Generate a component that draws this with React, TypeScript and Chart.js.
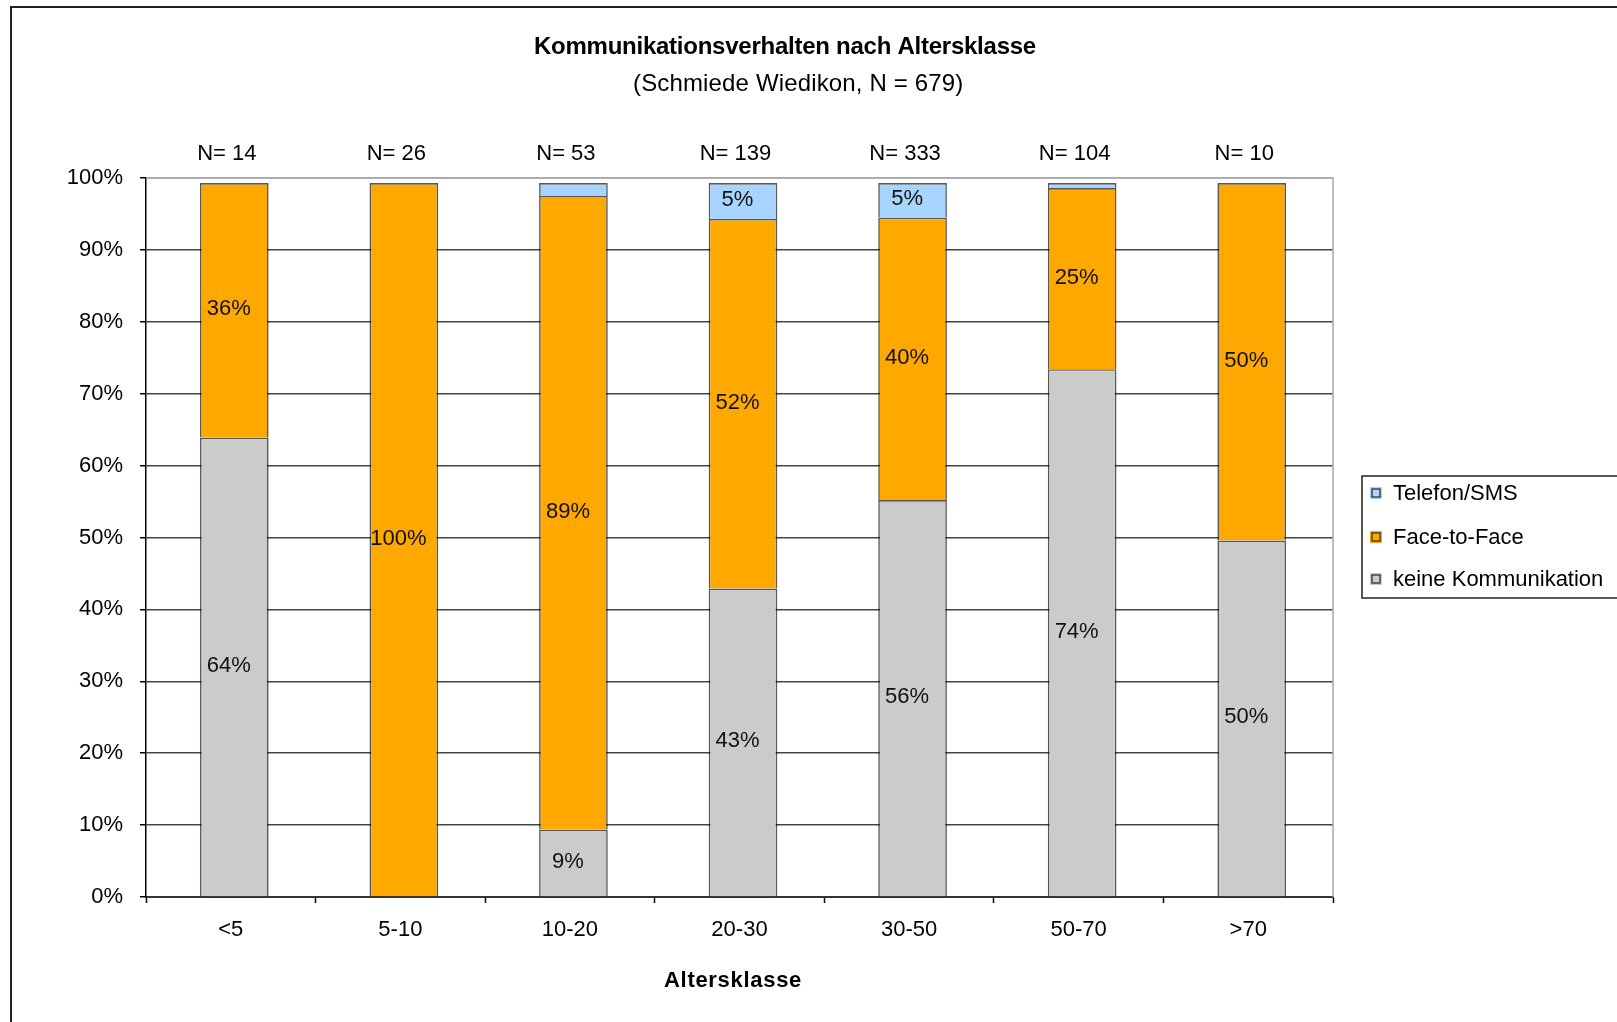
import React, { useEffect, useRef } from "react";
import { Chart, registerables } from "chart.js";

Chart.register(...registerables);

const categories = ["<5", "5-10", "10-20", "20-30", "30-50", "50-70", ">70"];
const nLabels = ["N= 14", "N= 26", "N= 53", "N= 139", "N= 333", "N= 104", "N= 10"];
const keineValues = [63.9, 0, 9.4, 42.9, 55.2, 73.4, 49.6];
const faceValues = [35.4, 99.3, 88.1, 51.4, 39.3, 25.2, 49.7];
const telefonValues = [0, 0, 1.8, 5.0, 4.8, 0.7, 0];
const yTicks = [0, 10, 20, 30, 40, 50, 60, 70, 80, 90, 100];

const titleText = "Kommunikationsverhalten nach Altersklasse";
const subtitleText = "(Schmiede Wiedikon, N = 679)";
const xAxisTitle = "Altersklasse";

const FONT = "'Liberation Sans', Arial, sans-serif";
const GREY = "#CBCBCB";
const ORANGE = "#FFA800";
const BLUE = "#A8D5FF";
const EDGE = "rgba(0,0,0,0.66)";
const BAR_SHIFT = 3.5;

const seriesLabels = ["keine Kommunikation", "Face-to-Face", "Telefon/SMS"];
const seriesValues = [keineValues, faceValues, telefonValues];
const seriesColors = [GREY, ORANGE, BLUE];

const shiftPlugin = {
  id: "shiftBars",
  afterUpdate(chart: any) {
    chart.data.datasets.forEach((_: any, di: number) => {
      chart.getDatasetMeta(di).data.forEach((bar: any) => {
        bar.x = bar.x + BAR_SHIFT;
      });
    });
  },
};

const decorPlugin = {
  id: "decor",
  afterDraw(chart: any) {
    const ctx = chart.ctx;
    const area = chart.chartArea;
    const xs = chart.scales.x;
    ctx.save();

    // outer frame
    ctx.strokeStyle = "#222";
    ctx.lineWidth = 2;
    ctx.strokeRect(11, 7, 1800, 1200);

    // plot frame top/right
    ctx.strokeStyle = "#a8a8a8";
    ctx.lineWidth = 1.5;
    ctx.beginPath();
    ctx.moveTo(area.left, area.top);
    ctx.lineTo(area.right, area.top);
    ctx.lineTo(area.right, area.bottom);
    ctx.stroke();

    // titles
    ctx.fillStyle = "#000";
    ctx.textBaseline = "alphabetic";
    ctx.textAlign = "left";
    ctx.font = `bold 24px ${FONT}`;
    (ctx as any).letterSpacing = "-0.25px";
    ctx.fillText(titleText, 534, 54);
    ctx.font = `24px ${FONT}`;
    (ctx as any).letterSpacing = "0.15px";
    ctx.fillText(subtitleText, 633, 91);

    // axis title
    ctx.font = `bold 22px ${FONT}`;
    ctx.textAlign = "center";
    (ctx as any).letterSpacing = "0.7px";
    ctx.fillText(xAxisTitle, 733, 987);
    (ctx as any).letterSpacing = "0px";

    // N labels
    ctx.font = `22px ${FONT}`;
    ctx.textBaseline = "middle";
    categories.forEach((_, i) => {
      ctx.fillText(nLabels[i], xs.getPixelForValue(i) - 4, 154);
    });

    // data labels
    const totals = categories.map((_, i) =>
      seriesValues.reduce((s, arr) => s + arr[i], 0)
    );
    chart.data.datasets.forEach((ds: any, di: number) => {
      const meta = chart.getDatasetMeta(di);
      meta.data.forEach((bar: any, i: number) => {
        const v = ds.data[i];
        const share = (v / totals[i]) * 100;
        if (share < 3) return;
        const cy = (bar.y + bar.base) / 2;
        ctx.fillStyle = "#111";
        ctx.fillText(Math.round(share) + "%", xs.getPixelForValue(i) - 2, cy - 1);
      });
    });

    // legend
    const lx = 1362, ly = 476, lh = 122;
    ctx.strokeStyle = "#222";
    ctx.lineWidth = 1.5;
    ctx.strokeRect(lx, ly, 400, lh);
    const itemsY = [493, 537, 579];
    ctx.textAlign = "left";
    ctx.font = `22px ${FONT}`;
    [2, 1, 0].forEach((si, k) => {
      const y = itemsY[k];
      ctx.fillStyle = seriesColors[si];
      ctx.fillRect(1370, y - 6, 12, 12);
      ctx.strokeStyle = "#333";
      ctx.lineWidth = 1.3;
      ctx.strokeRect(1372, y - 4, 8, 8);
      ctx.fillStyle = "#000";
      ctx.fillText(seriesLabels[si], 1393, y + 1);
    });

    ctx.restore();
  },
};

export default function App() {
  const ref = useRef<HTMLCanvasElement | null>(null);

  useEffect(() => {
    if (!ref.current) return;
    const chart = new Chart(ref.current, {
      type: "bar",
      data: {
        labels: categories,
        datasets: seriesLabels.map((label, i) => ({
          label,
          data: seriesValues[i],
          backgroundColor: seriesColors[i],
          borderColor: EDGE,
          borderWidth: 1.6,
          categoryPercentage: 1,
          barPercentage: 0.405,
        })),
      },
      options: {
        animation: false,
        responsive: true,
        maintainAspectRatio: false,
        devicePixelRatio: 1,
        layout: { padding: { left: 0, top: 178, right: 284, bottom: 0 } },
        plugins: {
          legend: { display: false },
          title: { display: false },
          tooltip: { enabled: false },
        },
        scales: {
          x: {
            stacked: true,
            grid: {
              offset: true,
              drawOnChartArea: false,
              drawTicks: true,
              tickLength: 6,
              tickColor: "#000",
              tickWidth: 1.5,
            },
            border: { display: true, color: "#333", width: 2 },
            ticks: {
              color: "#000",
              font: { family: FONT, size: 22 },
              padding: 14,
              maxRotation: 0,
            },
            afterFit: (s: any) => {
              s.height = 125;
            },
          },
          y: {
            stacked: true,
            min: 0,
            max: 100,
            afterBuildTicks: (s: any) => {
              s.ticks = yTicks.map((v) => ({ value: v }));
            },
            grid: {
              color: (c: any) => (c.tick && c.tick.value === 100 ? "#a8a8a8" : "#444"),
              lineWidth: 1.5,
              drawTicks: true,
              tickLength: 6,
              tickColor: "#000",
            },
            border: { display: true, color: "#000", width: 1.5 },
            ticks: {
              color: "#000",
              font: { family: FONT, size: 22 },
              padding: 17,
              callback: (v: any) => v + "%",
            },
            afterFit: (s: any) => {
              s.width = 146;
            },
          },
        },
      },
      plugins: [shiftPlugin, decorPlugin],
    });
    return () => chart.destroy();
  }, []);

  return (
    <div
      style={{
        position: "fixed",
        left: 0,
        top: 0,
        width: "1617px",
        height: "1022px",
        background: "#fff",
      }}
    >
      <canvas ref={ref} />
    </div>
  );
}
